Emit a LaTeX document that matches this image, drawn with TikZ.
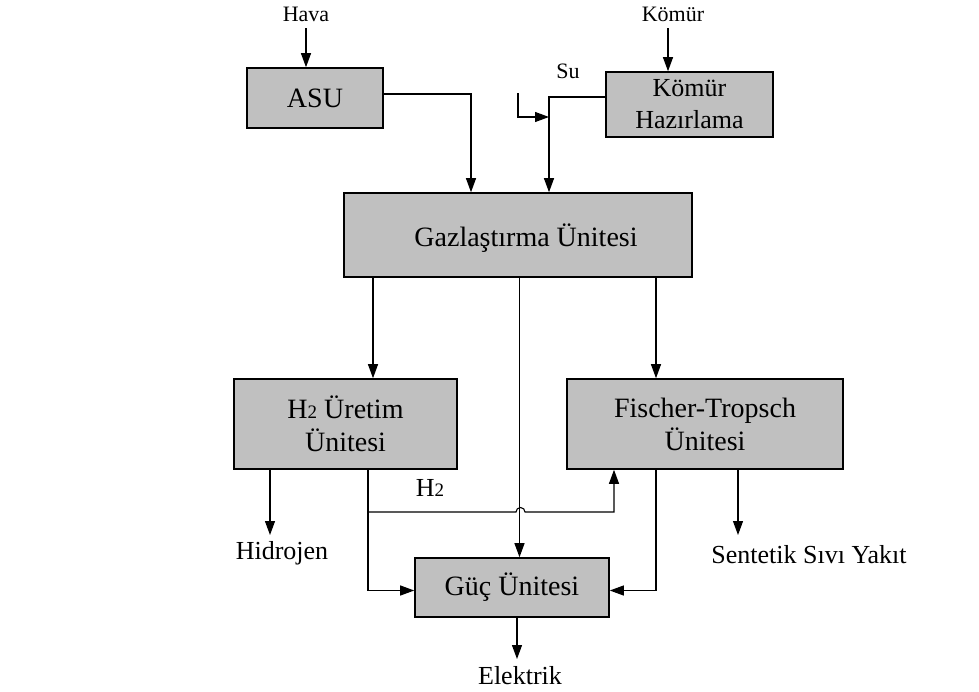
\documentclass[tikz,border=0pt]{standalone}
\usepackage{fontspec}
\setmainfont{Liberation Serif}
\usetikzlibrary{arrows.meta,calc}
\definecolor{boxgray}{HTML}{C0C0C0}
\tikzset{
  unitbox/.style={draw=black, line width=1.6pt, fill=boxgray, inner sep=0pt, align=center,
     font=\fontsize{28}{33}\selectfont},
  smalllbl/.style={inner sep=0pt, font=\fontsize{22}{26}\selectfont},
  outlbl/.style={inner sep=0pt, font=\fontsize{26}{30}\selectfont},
  conn/.style={line width=1.1pt},
  arr/.style={conn, -{Triangle[length=14pt,width=10pt]}},
}
\newcommand{\Hsub}{H{\fontsize{19}{19}\selectfont 2}}
\begin{document}
\begin{tikzpicture}[x=1pt,y=-1pt]
\useasboundingbox (0,0) rectangle (979,691);
% boxes
\node[unitbox, minimum width=136pt, minimum height=60pt] (asu) at (315,98) {ASU};
\node[unitbox, minimum width=167pt, minimum height=65pt, font=\fontsize{26}{32}\selectfont] (kh) at (689.5,104.5) {Kömür\\Hazırlama};
\node[unitbox, minimum width=348pt, minimum height=84pt] (gaz) at (518,235) {};
\node[font=\fontsize{28}{33}\selectfont, inner sep=0pt] (gaztxt) at (526,238) {Gazlaştırma Ünitesi};
\node[unitbox, minimum width=223pt, minimum height=90pt] (h2) at (345.5,424) {\Hsub{} Üretim\\Ünitesi};
\node[unitbox, minimum width=276pt, minimum height=90pt] (ft) at (705,424) {Fischer-Tropsch\\Ünitesi};
\node[unitbox, minimum width=194pt, minimum height=59pt] (guc) at (512,587.5) {Güç Ünitesi};
% labels
\node[smalllbl] (hava) at (306,14) {Hava};
\node[smalllbl] (komur) at (673,14) {Kömür};
\node[smalllbl] (su) at (568,71) {Su};
\node[outlbl] (hid) at (282,553) {Hidrojen};
\node[outlbl] (sent) at (809,555) {Sentetik Sıvı Yakıt};
\node[outlbl] (elek) at (520,676) {Elektrik};
\node[outlbl] (h2lbl) at (430,488) {\Hsub};
% free ends
\coordinate (havaS) at (306,28);
\coordinate (komurS) at (668,28);
\coordinate (suS) at (518,93);
\coordinate (suC) at (518,117);
\coordinate (hidE) at (270,535);
\coordinate (sentE) at (738,535);
\coordinate (elekE) at (517,659);
\coordinate (br) at (368,512);
\coordinate (hop) at (516,512);
% connectors
\draw[arr] (havaS) -- (havaS |- asu.north);
\draw[arr] (komurS) -- (komurS |- kh.north);
\draw[arr] ([yshift=4pt]asu.east) -| ([xshift=-47pt]gaz.north);
\draw[arr] ([yshift=7.5pt]kh.west) -| ([xshift=31pt]gaz.north);
\draw[arr] (suS) -- (suC) -- (suC -| 549,0);
\draw[arr] ([xshift=-145pt]gaz.south) -- ([xshift=-145pt]gaz.south |- h2.north);
\draw[arr] ([xshift=1.5pt]gaz.south) -- ([xshift=1.5pt]gaz.south |- guc.north);
\draw[arr] ([xshift=138pt]gaz.south) -- ([xshift=138pt]gaz.south |- ft.north);
\draw[arr] (hidE |- h2.south) -- (hidE);
\draw[arr] (br |- h2.south) |- ([yshift=-3pt]guc.west);
\draw[arr] (br) -- (hop) arc[start angle=180, end angle=0, radius=4.5pt] -- (614,512) -- (614,512 |- ft.south);
\draw[arr] ([xshift=-49pt]ft.south) |- ([yshift=-3pt]guc.east);
\draw[arr] (sentE |- ft.south) -- (sentE);
\draw[arr] (elekE |- guc.south) -- (elekE);
\end{tikzpicture}
\end{document}
